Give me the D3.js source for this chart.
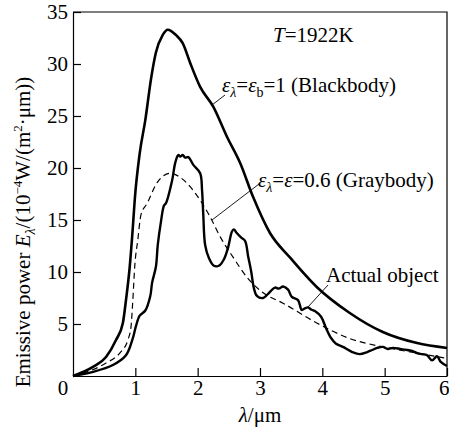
<!DOCTYPE html>
<html>
<head>
<meta charset="utf-8">
<script src="https://cdn.jsdelivr.net/npm/d3@7"></script>
<style>
  html, body { margin: 0; padding: 0; background: #fff; }
  #chart text { font-family: "Liberation Serif", "Times New Roman", Times !important; }
</style>
</head>
<body>
<svg id="chart" width="449" height="430"></svg>
<script>
// ---- data ----
const xTicks = [1, 2, 3, 4, 5, 6];
const yTicks = [5, 10, 15, 20, 25, 30, 35];

const blackLambda = [0, 0.32, 0.53, 0.69, 0.80, 0.85, 0.91, 0.96, 0.99, 1.07, 1.16, 1.25, 1.33, 1.44, 1.52, 1.65, 1.76, 1.88, 2.04, 2.25, 2.47, 2.68, 2.89, 3.16, 3.48, 3.91, 4.44, 4.97, 5.52, 6.0];
const blackValue  = [0, 0.87, 1.83, 3.46, 5.1, 7.3, 10.5, 14.3, 16.9, 21.4, 24.6, 28.5, 31.1, 32.8, 33.3, 32.8, 32.0, 30.1, 27.8, 25.9, 23.0, 20.5, 17.2, 13.75, 11.4, 8.56, 6.06, 4.23, 3.17, 2.7];

const grayLambda = [0, 0.53, 0.75, 0.88, 0.93, 0.96, 0.99, 1.04, 1.09, 1.19, 1.35, 1.56, 1.72, 1.88, 2.04, 2.20, 2.36, 2.57, 2.79, 3.05, 3.37, 3.91, 4.44, 4.97, 5.52, 6.0];
const grayValue  = [0, 1.25, 2.2, 3.46, 4.7, 7.3, 10.5, 13.1, 15.5, 16.6, 18.6, 19.5, 19.1, 18.2, 16.9, 15.3, 13.4, 11.4, 9.5, 8.0, 7.0, 5.1, 3.6, 2.8, 2.2, 1.7];

const actualLambda = [0, 0.32, 0.64, 0.85, 0.96, 1.01, 1.07, 1.16, 1.24, 1.27, 1.33, 1.36, 1.41, 1.46, 1.49, 1.59, 1.64, 1.69, 1.72, 1.76, 1.80, 1.85, 1.93, 2.04, 2.07, 2.09, 2.12, 2.18, 2.26, 2.34, 2.42, 2.49, 2.55, 2.58, 2.62, 2.70, 2.76, 2.81, 2.86, 2.90, 2.95, 3.05, 3.13, 3.24, 3.30, 3.37, 3.45, 3.51, 3.61, 3.67, 3.72, 3.77, 3.82, 3.88, 3.98, 4.06, 4.14, 4.22, 4.33, 4.48, 4.60, 4.72, 4.80, 4.88, 4.97, 5.05, 5.13, 5.25, 5.36, 5.45, 5.52, 5.60, 5.68, 5.76, 5.84, 5.90, 6.0];
const actualValue  = [0, 0.4, 1.06, 2.0, 3.65, 4.8, 5.8, 6.3, 7.7, 9.0, 10.5, 12.6, 14.8, 16.4, 16.6, 18.8, 20.5, 21.25, 21.1, 21.25, 21.0, 21.05, 20.3, 19.5, 17.9, 15.5, 12.6, 11.35, 10.6, 10.6, 11.2, 12.4, 13.9, 14.1, 13.8, 13.3, 13.0, 11.5, 10.0, 8.5, 7.7, 7.5, 7.9, 8.5, 8.4, 8.6, 8.3, 7.6, 7.3, 6.35, 6.5, 6.6, 6.4, 6.25, 5.7, 4.6, 3.65, 3.1, 2.8, 2.3, 2.1, 2.3, 2.5, 2.7, 2.8, 2.6, 2.7, 2.6, 2.5, 2.4, 2.2, 2.1, 2.0, 1.5, 1.9, 1.35, 0.96];

// ---- layout ----
const svg = d3.select("#chart");
const mLeft = 73, mRight = 447, mTop = 12, mBottom = 376;
const x = d3.scaleLinear().domain([0, 6]).range([mLeft, mRight]);
const y = d3.scaleLinear().domain([0, 35]).range([mBottom, mTop]);
const FS = 21;
const SERIF = '"Liberation Serif"';

function txt(parent) {
  return parent.append("text").style("font-family", SERIF).style("font-size", FS + "px").attr("fill", "#000");
}

svg.append("path")
  .attr("d", `M${mLeft},${mTop}H${mRight}V${mBottom}`)
  .attr("fill", "none").attr("stroke", "#000").attr("stroke-width", 1.2);

const xAxis = d3.axisBottom(x).tickValues(xTicks).tickFormat(d3.format("d")).tickSizeInner(-8).tickSizeOuter(0).tickPadding(4);
const yAxis = d3.axisLeft(y).tickValues(yTicks).tickFormat(d3.format("d")).tickSizeInner(-8).tickSizeOuter(0).tickPadding(5);

const gx = svg.append("g").attr("transform", `translate(0,${mBottom})`).call(xAxis);
const gy = svg.append("g").attr("transform", `translate(${mLeft},0)`).call(yAxis);
[gx, gy].forEach(g => {
  g.attr("font-family", null).attr("font-size", null);
  g.select(".domain").attr("stroke", "#000").attr("stroke-width", 1.2);
  g.selectAll(".tick line").attr("stroke", "#000").attr("stroke-width", 1.2);
  g.selectAll(".tick text").attr("fill", "#000").style("font-family", SERIF).style("font-size", FS + "px");
});
gx.selectAll(".tick text").attr("dy", "0.71em");
gx.selectAll(".tick text").filter(d => d === 6).attr("text-anchor", "end").attr("x", 2);

// shared origin label
txt(svg).attr("x", 63).attr("y", 395).attr("text-anchor", "middle").text("0");

// ---- curves ----
const mk = (xs, ys) => xs.map((v, i) => [v, ys[i]]);
const lineSmooth = d3.line().x(d => x(d[0])).y(d => y(d[1])).curve(d3.curveMonotoneX);
const lineRough = d3.line().x(d => x(d[0])).y(d => y(d[1])).curve(d3.curveCatmullRom.alpha(0.5));

svg.append("path").datum(mk(grayLambda, grayValue))
  .attr("d", lineSmooth).attr("fill", "none").attr("stroke", "#000")
  .attr("stroke-width", 1.2).attr("stroke-dasharray", "6,4");

svg.append("path").datum(mk(blackLambda, blackValue))
  .attr("d", lineSmooth).attr("fill", "none").attr("stroke", "#000")
  .attr("stroke-width", 2.6).attr("stroke-linejoin", "round");

svg.append("path").datum(mk(actualLambda, actualValue))
  .attr("d", lineRough).attr("fill", "none").attr("stroke", "#000")
  .attr("stroke-width", 2.4).attr("stroke-linejoin", "round");

// ---- annotations ----
const tT = txt(svg).attr("x", 273).attr("y", 42);
tT.append("tspan").style("font-style", "italic").text("T");
tT.append("tspan").text("=1922K");

const tb = txt(svg).attr("x", 222).attr("y", 92);
tb.append("tspan").style("font-style", "italic").text("ε");
tb.append("tspan").style("font-style", "italic").style("font-size", "14px").attr("dy", 5).text("λ");
tb.append("tspan").attr("dy", -5).text("=");
tb.append("tspan").style("font-style", "italic").text("ε");
tb.append("tspan").style("font-size", "14px").attr("dy", 5).text("b");
tb.append("tspan").attr("dy", -5).text("=1 (Blackbody)");
svg.append("line").attr("x1", 212).attr("y1", 105).attr("x2", 225).attr("y2", 95)
  .attr("stroke", "#000").attr("stroke-width", 0.9);

const tg = txt(svg).attr("x", 258).attr("y", 187);
tg.append("tspan").style("font-style", "italic").text("ε");
tg.append("tspan").style("font-style", "italic").style("font-size", "14px").attr("dy", 5).text("λ");
tg.append("tspan").attr("dy", -5).text("=");
tg.append("tspan").style("font-style", "italic").text("ε");
tg.append("tspan").text("=0.6 (Graybody)");
svg.append("line").attr("x1", 259).attr("y1", 184).attr("x2", 212).attr("y2", 220)
  .attr("stroke", "#000").attr("stroke-width", 0.9);

txt(svg).attr("x", 326).attr("y", 282).text("Actual object");
svg.append("line").attr("x1", 328).attr("y1", 285).attr("x2", 308).attr("y2", 307)
  .attr("stroke", "#000").attr("stroke-width", 0.9);

const xt = txt(svg).attr("x", 260).attr("y", 422).attr("text-anchor", "middle");
xt.append("tspan").style("font-style", "italic").text("λ");
xt.append("tspan").text("/μm");

const yt = txt(svg).attr("transform", "translate(30,232) rotate(-90)").attr("text-anchor", "middle");
yt.append("tspan").text("Emissive power ");
yt.append("tspan").style("font-style", "italic").text("E");
yt.append("tspan").style("font-style", "italic").style("font-size", "14px").attr("dy", 5).text("λ");
yt.append("tspan").attr("dy", -5).text("/(10");
yt.append("tspan").style("font-size", "13px").attr("dy", -8).text("−4");
yt.append("tspan").attr("dy", 8).text("W/(m");
yt.append("tspan").style("font-size", "13px").attr("dy", -8).text("2");
yt.append("tspan").attr("dy", 8).text("·μm))");
</script>
</body>
</html>
